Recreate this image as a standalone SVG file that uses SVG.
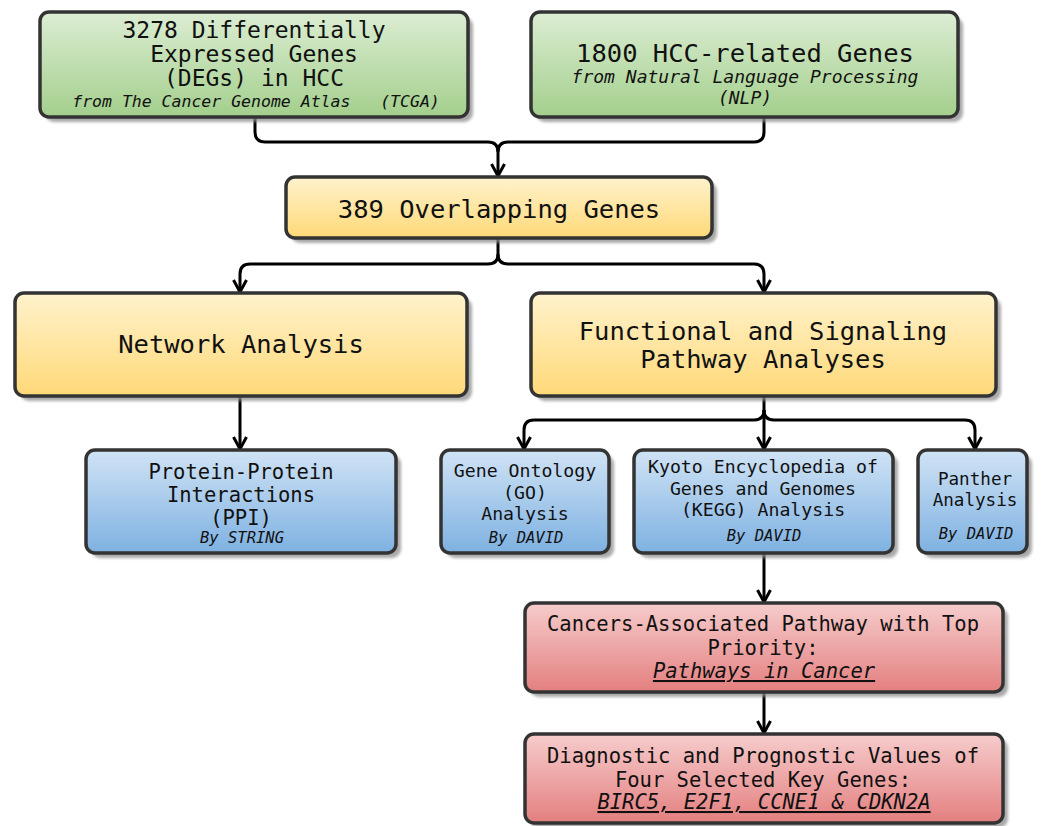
<svg xmlns="http://www.w3.org/2000/svg" width="1044" height="826" viewBox="0 0 1044 826">
  <defs>
    <linearGradient id="gGreen" x1="0" y1="0" x2="0" y2="1">
      <stop offset="0" stop-color="#dcedd3"/>
      <stop offset="1" stop-color="#a3cf8c"/>
    </linearGradient>
    <linearGradient id="gYellow" x1="0" y1="0" x2="0" y2="1">
      <stop offset="0" stop-color="#fff2cc"/>
      <stop offset="1" stop-color="#ffd978"/>
    </linearGradient>
    <linearGradient id="gBlue" x1="0" y1="0" x2="0" y2="1">
      <stop offset="0" stop-color="#d0e3f5"/>
      <stop offset="1" stop-color="#7eb1e1"/>
    </linearGradient>
    <linearGradient id="gRed" x1="0" y1="0" x2="0" y2="1">
      <stop offset="0" stop-color="#f6cccc"/>
      <stop offset="1" stop-color="#e47f7f"/>
    </linearGradient>
    <filter id="soft" x="-10%" y="-10%" width="120%" height="130%">
      <feGaussianBlur stdDeviation="1.5"/>
    </filter>
    <!-- open V arrowhead, drawn pointing along +x -->
    <marker id="arrow" viewBox="0 0 15 16" refX="13" refY="8" markerWidth="15" markerHeight="16" markerUnits="userSpaceOnUse" orient="auto">
      <path d="M1,1.5 L13,8 L1,14.5" fill="none" stroke="#000" stroke-width="3" stroke-linejoin="miter"/>
    </marker>
  </defs>
  <style>
    .shadow { fill: #8c8c8c; opacity: 0.75; filter: url(#soft); }
    .box { stroke: #333; stroke-width: 3.5; }
    .green { fill: url(#gGreen); }
    .yellow { fill: url(#gYellow); }
    .blue { fill: url(#gBlue); }
    .red { fill: url(#gRed); }
    text { font-family: "DejaVu Sans Mono", "Liberation Mono", monospace; fill: #111; text-anchor: middle; }
    .t26 { font-size: 25.5px; }
    .t23 { font-size: 23px; }
    .t20 { font-size: 20.5px; }
    .t18 { font-size: 18.2px; }
    .t17 { font-size: 17.6px; }
    .i18 { font-size: 18px; font-style: italic; }
    .i16 { font-size: 16.5px; font-style: italic; }
    .i15 { font-size: 15.5px; font-style: italic; }
    .u { text-decoration: underline; font-style: italic; }
    .link { fill: none; stroke: #000; stroke-width: 3; }
  </style>

  <!-- connectors -->
  <g id="connectors">
    <path class="link" d="M255,117 V132 Q255,142 265,142 H488 Q498,142 498,152 V176" marker-end="url(#arrow)"/>
    <path class="link" d="M764,117 V132 Q764,142 754,142 H508 Q498,142 498,152"/>
    <path class="link" d="M498,238 V254 Q498,264 488,264 H250 Q240,264 240,274 V292" marker-end="url(#arrow)"/>
    <path class="link" d="M498,254 Q498,264 508,264 H754 Q764,264 764,274 V292" marker-end="url(#arrow)"/>
    <path class="link" d="M240,396 V449" marker-end="url(#arrow)"/>
    <path class="link" d="M764,396 V410 Q764,420 754,420 H534 Q524,420 524,430 V449" marker-end="url(#arrow)"/>
    <path class="link" d="M764,410 Q764,420 774,420 H965 Q975,420 975,430 V449" marker-end="url(#arrow)"/>
    <path class="link" d="M764,410 V449" marker-end="url(#arrow)"/>
    <path class="link" d="M764,553 V602" marker-end="url(#arrow)"/>
    <path class="link" d="M764,692 V733" marker-end="url(#arrow)"/>
  </g>

  <!-- TCGA differentially expressed genes -->
  <g id="node-degs">
    <rect class="shadow" x="45" y="17" width="428" height="105" rx="9"/>
    <rect class="box green" x="40" y="12" width="428" height="105" rx="9"/>
    <text class="t23" x="254" y="38">3278 Differentially</text>
    <text class="t23" x="254" y="62">Expressed Genes</text>
    <text class="t23" x="254" y="86">(DEGs) in HCC</text>
    <text class="i16" x="256" y="107" xml:space="preserve">from The Cancer Genome Atlas   (TCGA)</text>
  </g>

  <!-- NLP genes -->
  <g id="node-nlp">
    <rect class="shadow" x="536" y="17" width="427" height="105" rx="9"/>
    <rect class="box green" x="531" y="12" width="427" height="105" rx="9"/>
    <text class="t26" x="745" y="62">1800 HCC-related Genes</text>
    <text class="i18" x="745" y="83">from Natural Language Processing</text>
    <text class="i18" x="745" y="104">(NLP)</text>
  </g>

  <!-- overlap -->
  <g id="node-overlap">
    <rect class="shadow" x="291" y="182" width="426" height="61" rx="9"/>
    <rect class="box yellow" x="286" y="177" width="426" height="61" rx="9"/>
    <text class="t26" x="499" y="218">389 Overlapping Genes</text>
  </g>

  <!-- network analysis -->
  <g id="node-network">
    <rect class="shadow" x="20" y="298" width="452" height="103" rx="9"/>
    <rect class="box yellow" x="15" y="293" width="452" height="103" rx="9"/>
    <text class="t26" x="241" y="353">Network Analysis</text>
  </g>

  <!-- functional analyses -->
  <g id="node-functional">
    <rect class="shadow" x="536" y="298" width="465" height="103" rx="9"/>
    <rect class="box yellow" x="531" y="293" width="465" height="103" rx="9"/>
    <text class="t26" x="763" y="340">Functional and Signaling</text>
    <text class="t26" x="763" y="368">Pathway Analyses</text>
  </g>

  <!-- PPI -->
  <g id="node-ppi">
    <rect class="shadow" x="91" y="455" width="310" height="103" rx="9"/>
    <rect class="box blue" x="86" y="450" width="310" height="103" rx="9"/>
    <text class="t20" x="241" y="479">Protein-Protein</text>
    <text class="t20" x="241" y="502">Interactions</text>
    <text class="t20" x="241" y="525">(PPI)</text>
    <text class="i15" x="242" y="543">By STRING</text>
  </g>

  <!-- GO -->
  <g id="node-go">
    <rect class="shadow" x="446" y="455" width="168" height="103" rx="9"/>
    <rect class="box blue" x="441" y="450" width="168" height="103" rx="9"/>
    <text class="t18" x="525" y="477">Gene Ontology</text>
    <text class="t18" x="525" y="499">(GO)</text>
    <text class="t18" x="525" y="520">Analysis</text>
    <text class="i15" x="526" y="543">By DAVID</text>
  </g>

  <!-- KEGG -->
  <g id="node-kegg">
    <rect class="shadow" x="639" y="455" width="259" height="103" rx="9"/>
    <rect class="box blue" x="634" y="450" width="259" height="103" rx="9"/>
    <text class="t18" x="763" y="473">Kyoto Encyclopedia of</text>
    <text class="t18" x="763" y="495">Genes and Genomes</text>
    <text class="t18" x="763" y="516">(KEGG) Analysis</text>
    <text class="i15" x="764" y="541">By DAVID</text>
  </g>

  <!-- Panther -->
  <g id="node-panther">
    <rect class="shadow" x="923" y="455" width="109" height="103" rx="9"/>
    <rect class="box blue" x="918" y="450" width="109" height="103" rx="9"/>
    <text class="t17" x="975" y="485">Panther</text>
    <text class="t17" x="975" y="506">Analysis</text>
    <text class="i15" x="976" y="539">By DAVID</text>
  </g>

  <!-- top priority pathway -->
  <g id="node-pathway">
    <rect class="shadow" x="530" y="608" width="478" height="89" rx="9"/>
    <rect class="box red" x="525" y="603" width="478" height="89" rx="9"/>
    <text class="t20" x="763" y="631">Cancers-Associated Pathway with Top</text>
    <text class="t20" x="763" y="655">Priority:</text>
    <text class="t20 u" x="764" y="678">Pathways in Cancer</text>
  </g>

  <!-- key genes -->
  <g id="node-keygenes">
    <rect class="shadow" x="530" y="739" width="478" height="89" rx="9"/>
    <rect class="box red" x="525" y="734" width="478" height="89" rx="9"/>
    <text class="t20" x="763" y="763">Diagnostic and Prognostic Values of</text>
    <text class="t20" x="763" y="787">Four Selected Key Genes:</text>
    <text class="t20 u" x="764" y="809">BIRC5, E2F1, CCNE1 &amp; CDKN2A</text>
  </g>
</svg>
